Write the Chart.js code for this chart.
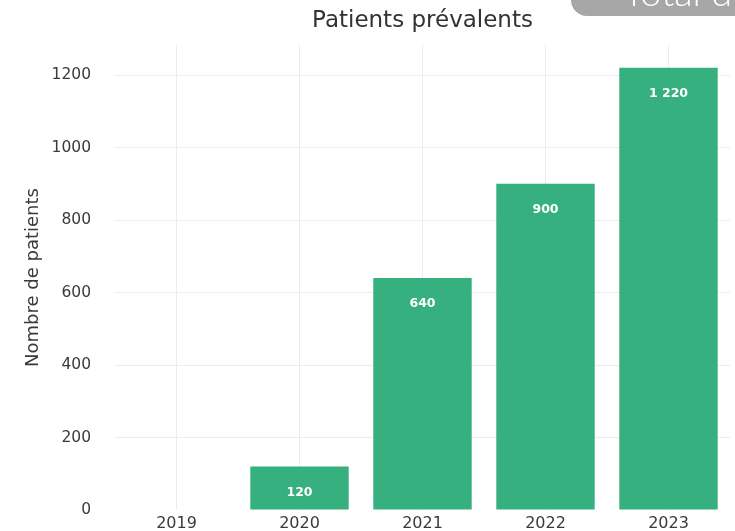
<!DOCTYPE html>
<html><head><meta charset="utf-8">
<script src="https://cdn.jsdelivr.net/npm/chart.js@4/dist/chart.umd.min.js"></script>
<style>
html,body{margin:0;padding:0;background:#fff;overflow:hidden;}
#wrap{position:relative;width:735px;height:531px;}
#badge{position:absolute;left:571px;top:-34px;width:220px;height:50px;border-radius:16px;background:#a7a7a7;color:#fff;font-family:Lato,"Open Sans",sans-serif;font-weight:300;font-size:38px;line-height:50px;padding-left:52px;box-sizing:border-box;white-space:nowrap;overflow:hidden;z-index:2;}
canvas{position:absolute;left:0;top:0;}
</style></head>
<body><div id="wrap"><canvas id="c" width="735" height="531"></canvas><div id="badge">Total de patients</div></div>
<script>
const categories = ["2019","2020","2021","2022","2023"];
const patients = [0,120,640,900,1220];
const yTicks = [0,200,400,600,800,1000,1200];

const fmt = v => String(v).replace(/\B(?=(\d{3})+(?!\d))/g, " ");

const labelPlugin = {
  id:'labels',
  afterDatasetsDraw(chart){
    const ctx = chart.ctx;
    const meta = chart.getDatasetMeta(0);
    ctx.save();
    ctx.fillStyle = '#fff';
    ctx.font = 'bold 12.5px "DejaVu Sans"';
    ctx.textAlign = 'center';
    ctx.textBaseline = 'middle';
    meta.data.forEach((bar,i)=>{
      const v = patients[i];
      if(!v) return;
      ctx.fillText(fmt(v), bar.x, bar.y + 26);
    });
    ctx.restore();
  }
};
const titlePlugin = {
  id:'ttl',
  afterDraw(chart){
    const ctx = chart.ctx, a = chart.chartArea;
    ctx.save();
    ctx.fillStyle = '#333';
    ctx.font = '23px "DejaVu Sans"';
    ctx.textAlign = 'center';
    ctx.textBaseline = 'middle';
    ctx.fillText('Patients prévalents', (a.left+a.right)/2, 21);
    ctx.fillStyle = '#3a3a3a';
    ctx.font = '18px "DejaVu Sans"';
    ctx.translate(33, (a.top+a.bottom)/2);
    ctx.rotate(-Math.PI/2);
    ctx.fillText('Nombre de patients', 0, 0);
    ctx.restore();
  }
};

new Chart(document.getElementById('c'), {
  type:'bar',
  data:{labels:categories, datasets:[{data:patients, backgroundColor:'#36b07f', barPercentage:0.8, categoryPercentage:1.0}]},
  options:{
    responsive:false, animation:false,
    layout:{padding:{top:45,right:5,left:0,bottom:0}},
    plugins:{legend:{display:false}, tooltip:{enabled:false}, title:{display:false}},
    scales:{
      x:{
        grid:{color:'#ebebf2', offset:false, drawTicks:false, lineWidth:1},
        border:{display:false},
        ticks:{color:'#3a3a3a', font:{family:'DejaVu Sans', size:16}, padding:4},
        afterFit(s){ s.height = 21; s.paddingLeft = 0; s.paddingRight = 0; }
      },
      y:{
        min:0, max:1283,
        afterBuildTicks(s){ s.ticks = yTicks.map(v=>({value:v})); },
        grid:{color:c=> c.tick && c.tick.value===0 ? '#ffffff' : '#ebebf2', drawTicks:false, lineWidth:1},
        border:{display:false},
        ticks:{color:'#3a3a3a', font:{family:'DejaVu Sans', size:15.5}, padding:24, callback:v=>String(v)},
        afterFit(s){ s.width = 115; s.paddingTop = 0; s.paddingBottom = 0; }
      }
    }
  },
  plugins:[labelPlugin, titlePlugin]
});
</script></body></html>
